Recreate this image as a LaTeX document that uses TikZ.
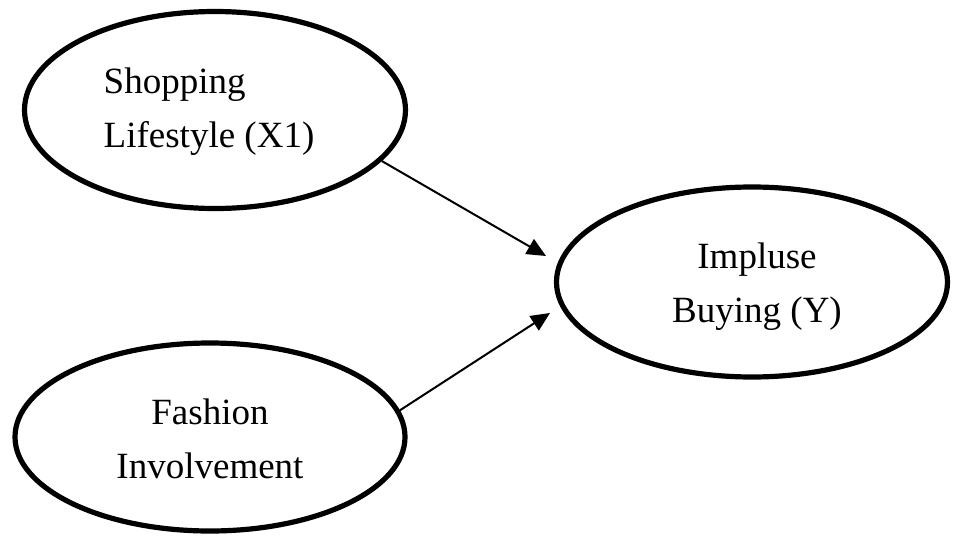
\documentclass[tikz,border=0pt]{standalone}
\usepackage{fontspec}
\setmainfont{Liberation Serif}
\usetikzlibrary{shapes.geometric,arrows.meta}
\begin{document}
\begin{tikzpicture}[x=0.5pt,y=-0.5pt,
  ell/.style={ellipse,draw=black,line width=2.6pt,inner sep=0pt},
  lbl/.style={inner sep=0pt,font=\fontsize{18.5}{27}\selectfont},
  arr/.style={line width=1pt,-{Triangle[length=9.5pt,width=8.5pt]}}]
\useasboundingbox (0,0) rectangle (954,536);
\node[ell,minimum width=190.5pt,minimum height=98.5pt] (sl) at (215,110) {};
\node[ell,minimum width=195.5pt,minimum height=95pt] (ib) at (752,282) {};
\node[ell,minimum width=195pt,minimum height=94pt] (fi) at (210,437) {};
\node[lbl,align=left] (slt) at (209,111.4) {Shopping\\Lifestyle (X1)};
\node[lbl,align=center] (ibt) at (757,287) {Impluse\\Buying (Y)};
\node[lbl,align=center] (fit) at (210,438.4) {Fashion\\Involvement};
\coordinate (t1) at (546,256);
\coordinate (t2) at (550,313);
\draw[arr] (sl.-17.5) -- (t1);
\draw[arr] (fi.8.5) -- (t2);
\end{tikzpicture}
\end{document}
